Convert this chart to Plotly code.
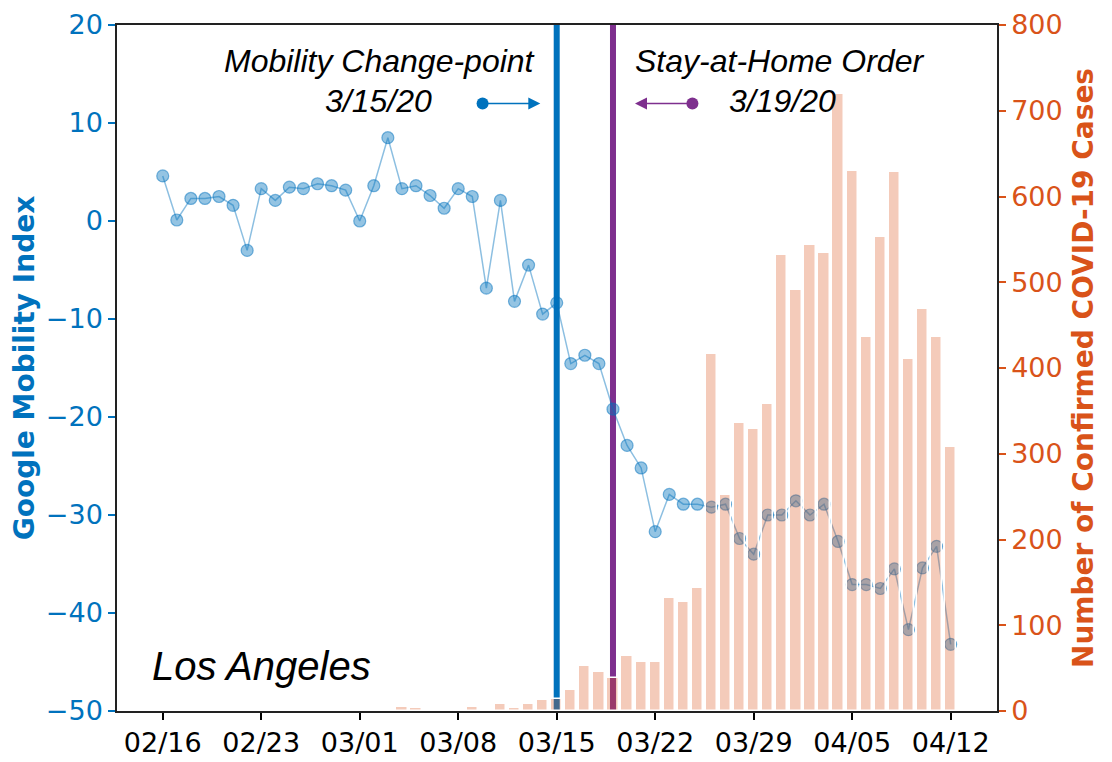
import pandas as pd
import plotly.graph_objects as go
from plotly.subplots import make_subplots

# ---------------- data ----------------
dates = pd.date_range("2020-02-16", "2020-04-12", freq="D")

mobility = [4.6, 0.1, 2.3, 2.3, 2.5, 1.6, -3.0, 3.3, 2.1, 3.45, 3.3, 3.8, 3.6, 3.15,
            0.0, 3.6, 8.5, 3.3, 3.6, 2.6, 1.3, 3.3, 2.5, -6.85,
            2.1, -8.2, -4.5, -9.5, -8.35,
            -14.55, -13.7, -14.55, -19.2, -22.9, -25.2, -31.7,
            -27.9, -28.9, -28.9, -29.2, -28.9, -32.4, -34.0,
            -30.0, -30.0,
            -28.55, -30.0, -28.9, -32.7, -37.1, -37.1, -37.5, -35.5, -41.7, -35.4, -33.2, -43.2]

cases = [0] * 17 + [5, 3, 1, 0, 0, 5, 0, 8, 3, 8, 13, 14,
                    24, 53, 45, 39, 64, 57, 57,
                    132, 127, 144, 416, 252, 336, 329,
                    358, 532, 491, 543, 534, 720, 630,
                    436, 553, 629, 411, 469, 436, 308]

changepoint_date = "2020-03-15"
stay_home_date = "2020-03-19"
city = "Los Angeles"

BLUE = "#0072BD"
ORANGE = "#D95319"
PURPLE = "#7E2F8E"

fig = make_subplots(specs=[[{"secondary_y": True}]])

fig.add_trace(go.Scatter(
    x=dates, y=mobility, mode="lines+markers",
    line=dict(color="rgba(0,114,189,0.45)", width=1.5),
    marker=dict(size=12, color="rgba(0,114,189,0.42)",
                line=dict(color="rgba(0,114,189,0.5)", width=1.2)),
    showlegend=False), secondary_y=False)

fig.add_trace(go.Bar(
    x=dates, y=cases, width=0.8 * 86400000,
    marker=dict(color="rgba(217,83,25,0.3)", line=dict(color="white", width=1.5)),
    showlegend=False), secondary_y=True)

# vertical event lines
for d, c in [(changepoint_date, BLUE), (stay_home_date, PURPLE)]:
    fig.add_shape(type="line", xref="x", yref="paper", x0=d, x1=d, y0=0, y1=1,
                  line=dict(color=c, width=6), layer="below")

tfont = dict(family="Liberation Sans, Arial", size=32, color="black", style="italic")

# arrows with dot at the start
fig.add_annotation(x="2020-03-13 20:00", y=12.0, ax="2020-03-09 15:00", ay=12.0,
                   xref="x", yref="y", axref="x", ayref="y", text="", showarrow=True,
                   arrowhead=2, arrowsize=1.6, arrowwidth=1.5, arrowcolor=BLUE,
                   arrowside="end+start", startarrowhead=6, startarrowsize=2)
fig.add_annotation(x="2020-03-20 13:30", y=12.0, ax="2020-03-24 18:00", ay=12.0,
                   xref="x", yref="y", axref="x", ayref="y", text="", showarrow=True,
                   arrowhead=2, arrowsize=1.6, arrowwidth=1.5, arrowcolor=PURPLE,
                   arrowside="end+start", startarrowhead=6, startarrowsize=2)

fig.add_annotation(x=0.4775, y=0.947, xref="paper", yref="paper", text="Mobility Change-point",
                   showarrow=False, xanchor="right", yanchor="middle", font=tfont)
fig.add_annotation(x=0.2968, y=0.889, xref="paper", yref="paper", text="3/15/20",
                   showarrow=False, xanchor="center", yanchor="middle", font=tfont)
fig.add_annotation(x=0.5865, y=0.947, xref="paper", yref="paper", text="Stay-at-Home Order",
                   showarrow=False, xanchor="left", yanchor="middle", font=tfont)
fig.add_annotation(x=0.6932, y=0.889, xref="paper", yref="paper", text="3/19/20",
                   showarrow=False, xanchor="left", yanchor="middle", font=tfont)
fig.add_annotation(x=0.0378, y=0.066, xref="paper", yref="paper", text=city,
                   showarrow=False, xanchor="left", yanchor="middle",
                   font=dict(family="Liberation Sans, Arial", size=40, color="black", style="italic"))

tick_font_family = "DejaVu Sans"

fig.update_xaxes(
    domain=[0, 1], automargin=False, ticklabeloverflow="allow",
    range=["2020-02-12 18:00", "2020-04-15 07:00"],
    tick0="2020-02-16", dtick=7 * 86400000, tickformat="%m/%d",
    ticks="outside", ticklen=7, tickwidth=1.5, tickcolor="black",
    tickfont=dict(family=tick_font_family, size=27, color="black"),
    showline=True, linecolor="#222", linewidth=1.5, mirror=True,
    showgrid=False, zeroline=False)

fig.update_yaxes(
    range=[-50, 20], dtick=10, secondary_y=False, automargin=False,
    ticklabeloverflow="allow",
    ticks="outside", ticklen=7, tickwidth=1.5, tickcolor=BLUE,
    tickfont=dict(family=tick_font_family, size=27, color=BLUE),
    title=dict(text="Google Mobility Index", standoff=12,
               font=dict(family=tick_font_family, size=28, color=BLUE, weight="bold")),
    showline=True, linecolor="#222", linewidth=1.5,
    showgrid=False, zeroline=False)

fig.update_yaxes(
    range=[0, 800], dtick=100, secondary_y=True, automargin=False,
    ticklabeloverflow="allow",
    ticks="outside", ticklen=7, tickwidth=1.5, tickcolor=ORANGE,
    tickfont=dict(family=tick_font_family, size=27, color=ORANGE),
    title=dict(text="Number of Confirmed COVID-19 Cases", standoff=12,
               font=dict(family=tick_font_family, size=28, color=ORANGE, weight="bold")),
    showline=True, linecolor="#222", linewidth=1.5,
    showgrid=False, zeroline=False)

fig.update_layout(
    width=1112, height=762,
    margin=dict(l=109, r=123, t=17, b=59),
    plot_bgcolor="white", paper_bgcolor="white",
    bargap=0, showlegend=False)

fig.write_html("out.html")
